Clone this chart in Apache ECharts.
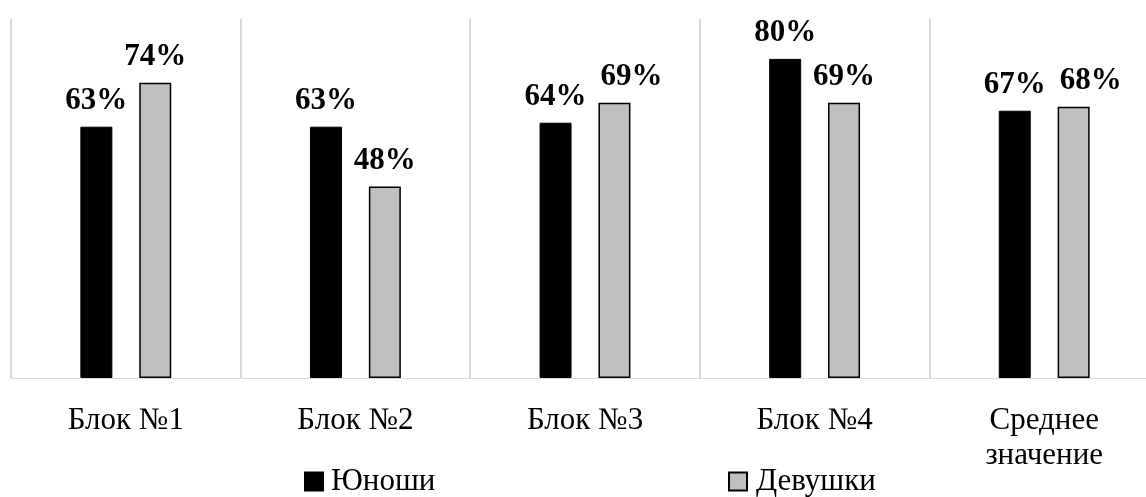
<!DOCTYPE html>
<html>
<head>
<meta charset="utf-8">
<script src="https://cdn.jsdelivr.net/npm/echarts@6/dist/echarts.min.js"></script>
<style>
  html, body { margin: 0; padding: 0; background: #fff; overflow: hidden; }
  /* правый край диаграммы обрезан, как в исходнике */
  #main { width: 1160px; height: 497px; }
</style>
</head>
<body>
<div id="main"></div>
<script type="text/javascript">
  // данные диаграммы
  var categories = ['Блок №1', 'Блок №2', 'Блок №3', 'Блок №4', 'Среднее\nзначение'];
  var boys = [0.63, 0.63, 0.64, 0.80, 0.67];
  var girls = [0.74, 0.48, 0.69, 0.69, 0.68];
  var seriesNames = ['Юноши', 'Девушки'];

  var serif = 'Liberation Serif';
  var chart = echarts.init(document.getElementById('main'));

  var labelStyle = {
    show: true,
    position: 'top',
    distance: 10,
    fontFamily: serif,
    fontWeight: 'bold',
    fontSize: 31,
    color: '#000',
    formatter: function (p) { return Math.round(p.value * 100) + '%'; }
  };

  // подписи, которые в исходнике сдвинуты вправо, чтобы не наезжать на соседние
  var girlsData = girls.map(function (v, i) {
    if (i === 2 || i === 4) {
      return { value: v, label: { offset: [17, 0] } };
    }
    return v;
  });

  chart.setOption({
    animation: false,
    textStyle: { fontFamily: serif },
    grid: { left: 11, right: 1, top: 19, bottom: 119, containLabel: false },
    legend: [
      {
        data: [seriesNames[0]], left: 299, top: 461,
        itemWidth: 18, itemHeight: 18, itemGap: 8, icon: 'rect',
        textStyle: { fontFamily: serif, fontSize: 31, color: '#000', padding: [0, 0, 0, 3] }
      },
      {
        data: [seriesNames[1]], left: 723, top: 461,
        itemWidth: 18, itemHeight: 18, itemGap: 8, icon: 'rect',
        textStyle: { fontFamily: serif, fontSize: 31, color: '#000', padding: [0, 0, 0, 4] }
      }
    ],
    xAxis: {
      type: 'category',
      data: categories,
      axisLine: { show: true, lineStyle: { color: '#d9d9d9', width: 1 } },
      axisTick: { show: false },
      splitLine: { show: true, lineStyle: { color: '#d9d9d9', width: 2 } },
      axisLabel: {
        margin: 25,
        fontFamily: serif,
        fontSize: 31,
        lineHeight: 35,
        color: '#000',
        interval: 0
      }
    },
    yAxis: {
      type: 'value',
      min: 0,
      max: 0.9,
      show: false,
      splitLine: { show: false }
    },
    series: [
      {
        name: seriesNames[0],
        type: 'bar',
        data: boys,
        barWidth: 32,
        barGap: '84%',
        itemStyle: { color: '#000', borderColor: '#000', borderWidth: 1 },
        label: labelStyle
      },
      {
        name: seriesNames[1],
        type: 'bar',
        data: girlsData,
        barWidth: 32,
        itemStyle: { color: '#bfbfbf', borderColor: '#000', borderWidth: 1.5 },
        label: labelStyle
      }
    ]
  });
</script>
</body>
</html>
